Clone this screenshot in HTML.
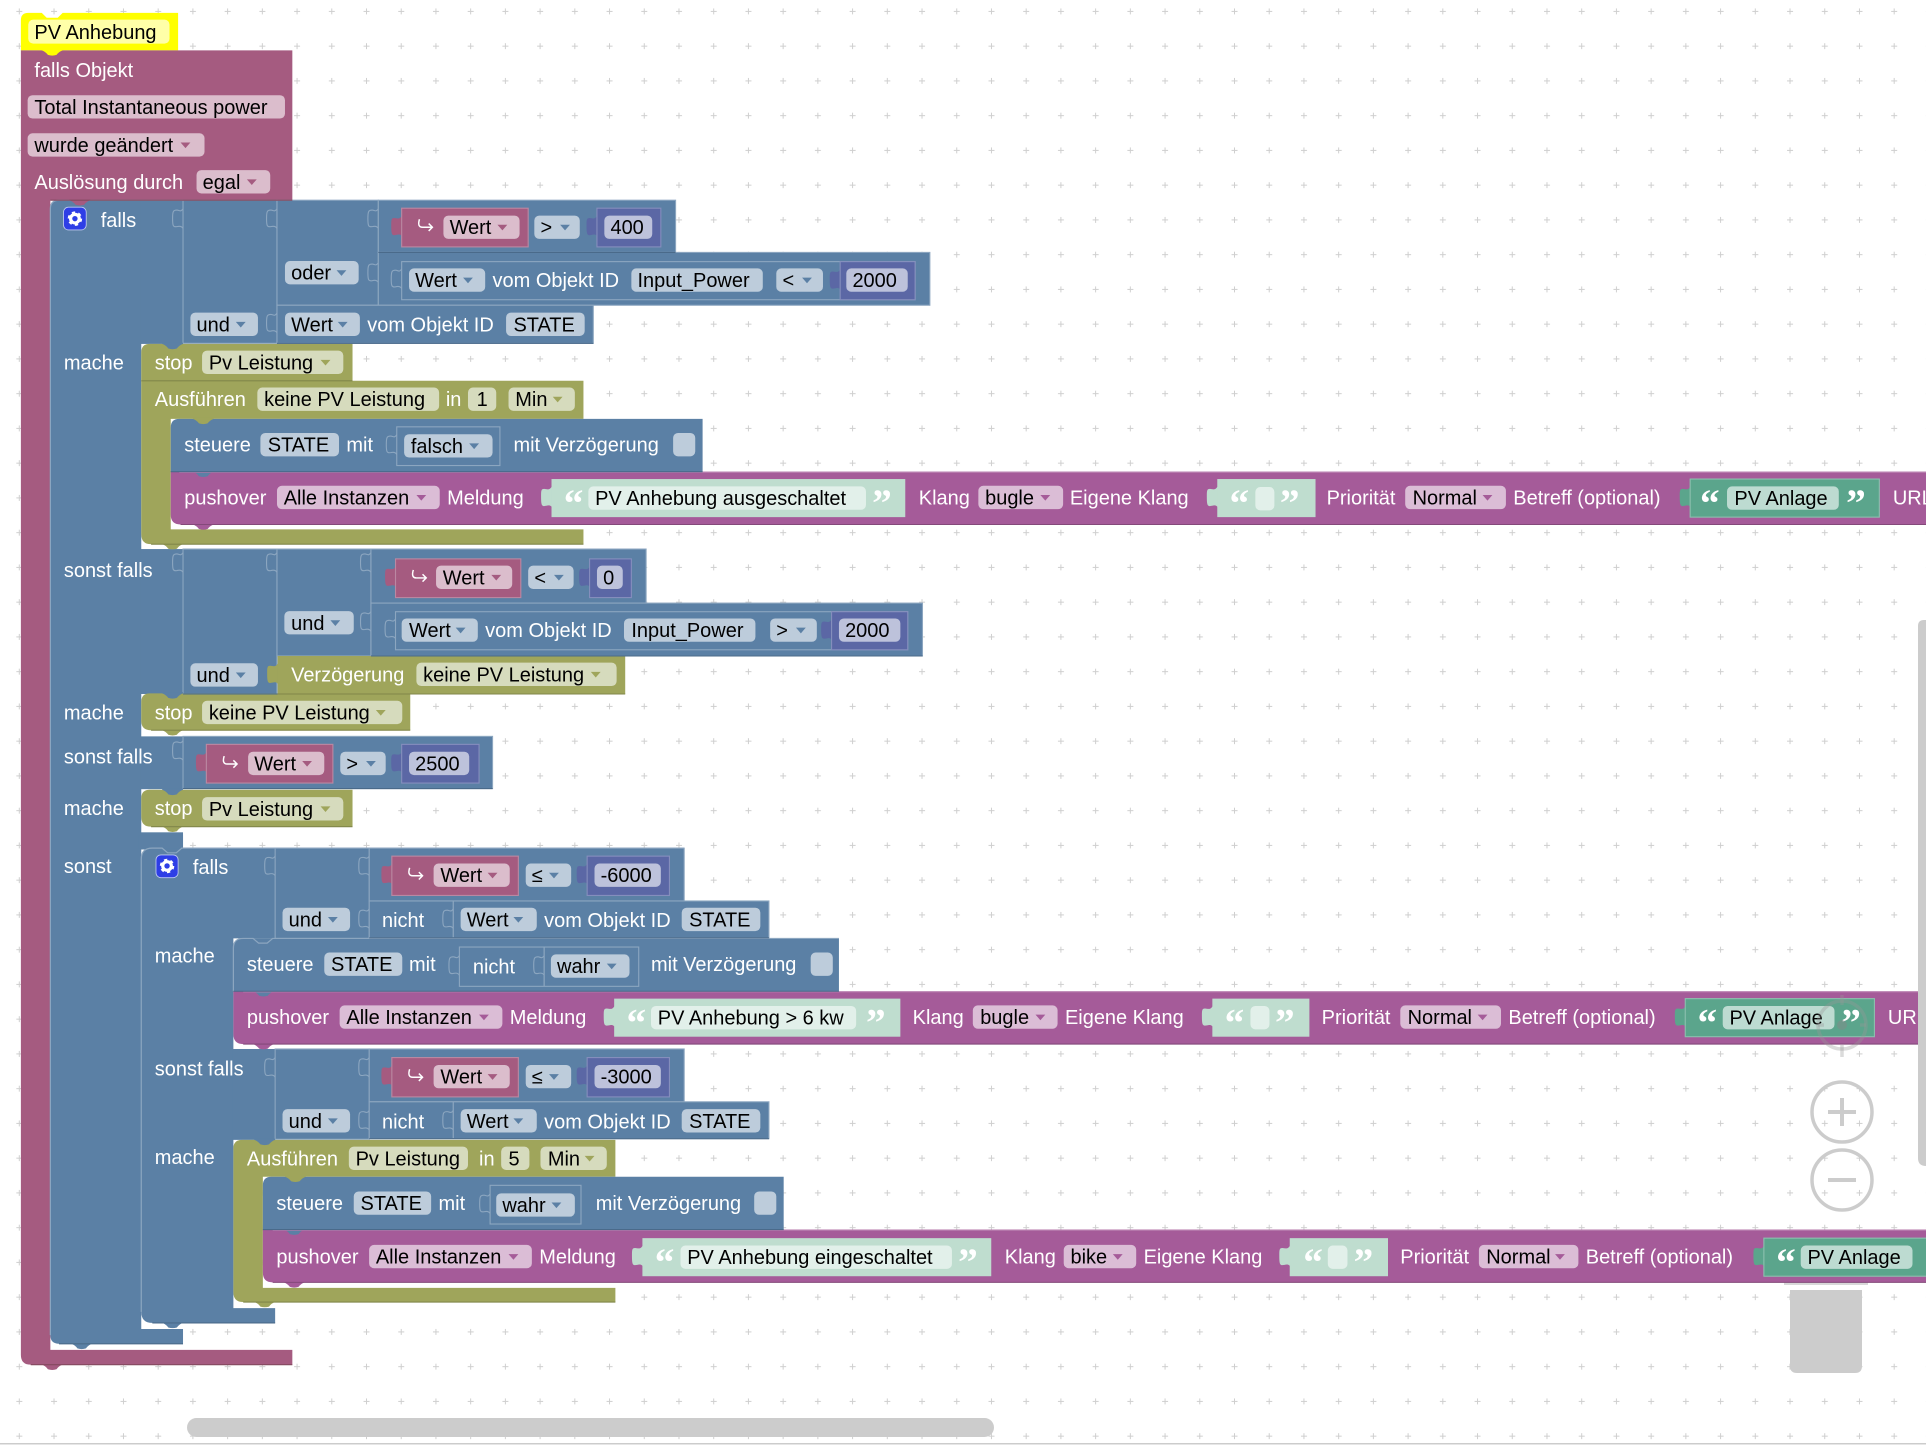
<!DOCTYPE html>
<html><head><meta charset="utf-8"><title>PV Anhebung</title>
<style>
html,body{margin:0;padding:0;background:#fff;width:1926px;height:1448px;overflow:hidden}
svg{display:block;position:absolute;left:0;top:0}
text{font-family:"Liberation Sans",Arial,sans-serif;font-size:16.26px;fill:#fff;white-space:pre}
text.k{fill:#000}
text.q{font-family:"Liberation Serif",serif;font-size:32px;font-weight:bold}
rect.f{height:19px;rx:4px;ry:4px}
.fb{fill:#BDCCDB}.fm{fill:#DBBDCC}.fo{fill:#D6DBBD}.fp{fill:#DBBDD6}.fn{fill:#BDC2DB}.fg{fill:#BDDBD1}.fw{fill:#E2F0EA}
.B{fill:#5B80A5}.M{fill:#A55B80}.O{fill:#9FA55B}.P{fill:#A55B99}.N{fill:#5B67A5}.G{fill:#5BA58C}.L{fill:#BFDDCF}
.s{stroke-width:.9}
.B.s{stroke:#8CA6C0}.M.s{stroke:#BB88A2}.N.s{stroke:#858EBD}.G.s{stroke:#8CC0AE}.L.s{stroke:#CFE6DB}
.O.s{stroke:#B5BA80}.P.s{stroke:#8C4D82}
.ab{fill:#5B80A5}.am{fill:#A55B80}.ao{fill:#9FA55B}.ap{fill:#A55B99}
.n{fill:none;stroke:#8CA6C0;stroke-width:.9}
.l{stroke:#8CA6C0;stroke-width:1;fill:none}
.e{fill:none;stroke-width:.9}
</style></head><body>
<svg width="1926" height="1448" viewBox="0 0 1926 1448" xmlns="http://www.w3.org/2000/svg">
<defs>
<pattern id="g" x="1.94" y="-5.96" width="34.72" height="34.75" patternUnits="userSpaceOnUse"><path d="M14.4 17.36h6M17.36 14.4v6" stroke="#cfcfcf" stroke-width="1"/></pattern>
<path id="a" d="M0 0h8l-4 4.600z"/>
<path id="t" d="M1 1.500h-1C-2 4.500-4 3-6 3C-8.500 3-8.500 4.500-8.500 9.500C-8.500 15.500-8 17-6 17C-4 17-2 15.500 0 17.500h1z"/>
<path id="nt" d="M0 0C-2 3-3 1-5 1C-8 1-8.500 2-8.500 8C-8.500 14-8 15-5 14.500C-3 14-1 14 0 16"/>
<path id="b" d="M0-1v1q3 1 5 3.700q3.500 1.200 7 0q2-2.700 5-3.700v-1z"/>
<path id="h" d="M14.500 -6q-2 6.500 2.500 6.500h8m-3-3l3 3-3 3" fill="none" stroke="#fff" stroke-width="1.200"/>
<g id="gear"><circle r="3.500" fill="none" stroke="#fff" stroke-width="2.600"/><circle r="5" fill="none" stroke="#fff" stroke-width="1.800" stroke-dasharray="2.620 2.620"/></g>
</defs>
<rect width="1926" height="1448" fill="#fff"/>
<rect width="1926" height="1443" fill="url(#g)"/>
<path d="M1790 1290H1862V1366Q1862 1373 1855 1373H1797Q1790 1373 1790 1366Z" fill="#ccc"/>
<rect x="1784" y="1282" width="84" height="3" fill="#d8d8d8"/>
<g transform="scale(1.22832)">

<!-- hat -->
<path d="M23 10.500H34l4 4h9l4-4H145V41H17V16.500Q17 10.500 23 10.500Z" fill="#FFFF00"/>
<rect x="23" y="16" width="115" height="19.500" rx="4" fill="#FFFFA8"/>
<text class="k" x="28" y="31.700">PV Anhebung</text>

<!-- main maroon -->
<path d="M17 41H238V163H41V1099H238V1111H25Q17 1111 17 1103Z" class="M"/>
<use href="#b" x="34" y="41" fill="#FFFF00"/>
<use href="#b" x="34" y="1111" class="M"/>
<text x="28" y="62.700">falls Objekt</text>
<rect class="f fm" x="22.500" y="77.500" width="209.500"/><text class="k" x="28" y="92.700">Total Instantaneous power</text>
<rect class="f fm" x="22.500" y="108.500" width="144"/><text class="k" x="28" y="123.700">wurde geändert</text><use href="#a" x="147" y="116" class="am"/>
<text x="28" y="153.700">Auslösung durch</text>
<rect class="f fm" x="160" y="138.500" width="60"/><text class="k" x="165" y="153.700">egal</text><use href="#a" x="201" y="146" class="am"/>

<!-- blue outer falls -->
<path d="M48 163H115V1082H149V1094H48Q41 1094 41 1087V170Q41 163 48 163Z" class="B"/>
<rect x="114" y="163" width="35" height="117" class="B"/>
<rect x="114" y="447" width="35" height="118" class="B"/>
<rect x="114" y="599.500" width="35" height="43" class="B"/>
<rect x="114" y="677.600" width="35" height="14" class="B"/>
<path d="M41 1087V170Q41 163 48 163H149" class="l"/>
<use href="#b" x="56.500" y="163" class="M"/>
<use href="#b" x="58" y="1094" class="B"/>

<rect x="51.700" y="168.700" width="18.500" height="18.500" rx="4" fill="#2E3EE6" stroke="#BDC8F0" stroke-width=".7"/>
<use href="#gear" x="61" y="178"/>
<text x="82" y="184.700">falls</text>
<text x="52" y="300.700">mache</text>
<text x="52" y="469.700">sonst falls</text>
<text x="52" y="585.700">mache</text>
<text x="52" y="621.700">sonst falls</text>
<text x="52" y="663.500">mache</text>
<text x="52" y="710.700">sonst</text>

<!-- cond 1 -->
<rect x="149" y="163" width="76.500" height="116.500" class="B s"/>
<rect x="225.500" y="163" width="82.500" height="85.500" class="B s"/>
<rect x="308" y="163" width="242" height="42.500" class="B s"/>
<rect x="308" y="205.500" width="449" height="43" class="B s"/>
<rect x="225.500" y="248.500" width="257.500" height="31" class="B s"/>
<use href="#nt" x="149" y="170" class="n"/><use href="#nt" x="225.500" y="170" class="n"/><use href="#nt" x="308" y="170" class="n"/><use href="#nt" x="308" y="214" class="n"/><use href="#nt" x="225.500" y="255" class="n"/>
<rect class="f fb" x="232" y="212.500" width="60"/><text class="k" x="237" y="227.700">oder</text><use href="#a" x="274" y="220" class="ab"/>
<rect class="f fb" x="155" y="254.500" width="55"/><text class="k" x="160" y="269.700">und</text><use href="#a" x="192" y="262" class="ab"/>
<rect class="f fb" x="232" y="254.500" width="61"/><text class="k" x="237" y="269.700">Wert</text><use href="#a" x="275" y="262" class="ab"/>
<text x="299" y="269.700">vom Objekt ID</text>
<rect class="f fb" x="412" y="254.500" width="64"/><text class="k" x="418" y="269.700">STATE</text>
<use href="#t" x="327" y="174.500" class="M"/><rect x="327" y="169.500" width="103" height="31.500" class="M s"/><use href="#h" x="327" y="184.500"/>
<rect class="f fm" x="361" y="175.500" width="62"/><text class="k" x="366" y="190.700">Wert</text><use href="#a" x="405" y="183" class="am"/>
<rect class="f fb" x="435" y="175.500" width="37"/><text class="k" x="440" y="190.700">&gt;</text><use href="#a" x="456" y="183" class="ab"/>
<use href="#t" x="486" y="174.500" class="N"/><rect x="486" y="169.500" width="52" height="31.500" class="N s"/>
<rect class="f fn" x="492" y="175.500" width="39"/><text class="k" x="497" y="190.700">400</text>
<use href="#nt" x="327" y="219" class="n"/><rect x="327" y="213" width="418" height="31" class="B s"/>
<rect class="f fb" x="333" y="218.500" width="62"/><text class="k" x="338" y="233.700">Wert</text><use href="#a" x="377" y="226" class="ab"/>
<text x="401" y="233.700">vom Objekt ID</text>
<rect class="f fb" x="514" y="218.500" width="107"/><text class="k" x="519" y="233.700">Input_Power</text>
<rect class="f fb" x="632" y="218.500" width="38"/><text class="k" x="637" y="233.700">&lt;</text><use href="#a" x="653" y="226" class="ab"/>
<use href="#t" x="684" y="218" class="N"/><rect x="684" y="213" width="61" height="31" class="N s"/>
<rect class="f fn" x="689" y="218.500" width="50"/><text class="k" x="694" y="233.700">2000</text>

<!-- stop 1 -->
<path d="M122 280H287V310H115V287Q115 280 122 280Z" class="O"/>
<use href="#b" x="132" y="280" class="B"/>
<text x="126" y="300.700">stop</text>
<rect class="f fo" x="164.500" y="285.500" width="115"/><text class="k" x="170" y="300.700">Pv Leistung</text><use href="#a" x="261" y="293" class="ao"/>

<!-- ausfuhren 1 -->
<path d="M115 310H475V341H139V431H475V443H123Q115 443 115 435Z" class="O"/>
<use href="#b" x="132" y="310" class="O"/><use href="#b" x="132" y="443" class="O"/>
<text x="126" y="330.700">Ausführen</text>
<rect class="f fo" x="209.500" y="315.500" width="148"/><text class="k" x="215" y="330.700">keine PV Leistung</text>
<text x="363" y="330.700">in</text>
<rect class="f fo" x="381" y="315.500" width="23"/><text class="k" x="388" y="330.700">1</text>
<rect class="f fo" x="414" y="315.500" width="54"/><text class="k" x="419.500" y="330.700">Min</text><use href="#a" x="450" y="323" class="ao"/>

<!-- steuere 1 -->
<path d="M146 341H572V384H139V348Q139 341 146 341Z" class="B"/>
<use href="#b" x="157" y="341" class="O"/>
<text x="150" y="367.700">steuere</text>
<rect class="f fb" x="212" y="352.500" width="64"/><text class="k" x="218" y="367.700">STATE</text>
<text x="282" y="367.700">mit</text>
<use href="#nt" x="323" y="354" class="n"/>
<rect x="323" y="347.500" width="84" height="31.500" class="B s"/>
<rect class="f fb" x="329" y="353.500" width="72"/><text class="k" x="334.500" y="368.700">falsch</text><use href="#a" x="382" y="361" class="ab"/>
<text x="418" y="367.700">mit Verzögerung</text>
<rect class="f fb" x="548" y="352.500" width="18"/>

<!-- pushover 1 -->
<path d="M139 384H1568V427H147Q139 427 139 419Z" class="P"/>
<use href="#b" x="157" y="384" class="B"/><use href="#b" x="157" y="427" class="P"/>
<text x="150" y="410.700">pushover</text>
<rect class="f fp" x="225.500" y="395.500" width="132.500"/><text class="k" x="231" y="410.700">Alle Instanzen</text><use href="#a" x="339" y="403" class="ap"/>
<text x="364" y="410.700">Meldung</text>
<use href="#t" x="449" y="395" class="L"/><rect x="449" y="390" width="288" height="31" class="L"/>
<text class="q" x="459" y="420">“</text><rect class="f fw" x="479" y="396" width="226"/><text class="k" x="484.500" y="411.200">PV Anhebung ausgeschaltet</text><text class="q" x="710" y="420">”</text>
<text x="748" y="410.700">Klang</text>
<rect class="f fp" x="796.500" y="395.500" width="69"/><text class="k" x="802" y="410.700">bugle</text><use href="#a" x="847" y="403" class="ap"/>
<text x="871" y="410.700">Eigene Klang</text>
<use href="#t" x="991" y="395" class="L"/><rect x="991" y="390" width="80" height="31" class="L"/>
<text class="q" x="1001" y="420">“</text><rect class="f fw" x="1022" y="396.500" width="15.500"/><text class="q" x="1042" y="420">”</text>
<text x="1080" y="410.700">Priorität</text>
<rect class="f fp" x="1144" y="395.500" width="82"/><text class="k" x="1150" y="410.700">Normal</text><use href="#a" x="1207" y="403" class="ap"/>
<text x="1232" y="410.700">Betreff (optional)</text>
<use href="#t" x="1376" y="395" class="G"/><rect x="1376" y="390" width="154" height="31" class="G s"/>
<text class="q" x="1384" y="420">“</text><rect class="f fg" x="1406" y="396" width="91"/><text class="k" x="1412" y="411.200">PV Anlage</text><text class="q" x="1503" y="420">”</text>
<text x="1541" y="410.700">URL</text>

<!-- cond 2 -->
<rect x="149" y="447" width="76.500" height="118" class="B s"/>
<rect x="225.500" y="447" width="76.500" height="87" class="B s"/>
<rect x="302" y="447" width="224" height="44" class="B s"/>
<rect x="302" y="491" width="449" height="43" class="B s"/>
<use href="#nt" x="149" y="450" class="n"/><use href="#nt" x="225.500" y="450" class="n"/><use href="#nt" x="302" y="450" class="n"/><use href="#nt" x="302" y="498" class="n"/>
<rect class="f fb" x="231.500" y="497.500" width="56.500"/><text class="k" x="237" y="512.700">und</text><use href="#a" x="269" y="505" class="ab"/>
<rect class="f fb" x="155" y="540" width="55"/><text class="k" x="160" y="555.200">und</text><use href="#a" x="192" y="547.500" class="ab"/>
<use href="#t" x="322" y="460" class="M"/><rect x="322" y="455" width="102" height="31.500" class="M s"/><use href="#h" x="322" y="470"/>
<rect class="f fm" x="355" y="460.500" width="62"/><text class="k" x="360.500" y="475.700">Wert</text><use href="#a" x="400" y="468" class="am"/>
<rect class="f fb" x="430" y="460.500" width="37"/><text class="k" x="435" y="475.700">&lt;</text><use href="#a" x="451" y="468" class="ab"/>
<use href="#t" x="480" y="460" class="N"/><rect x="480" y="455" width="34" height="31.500" class="N s"/>
<rect class="f fn" x="486" y="460.500" width="21"/><text class="k" x="491" y="475.700">0</text>
<use href="#nt" x="322" y="504" class="n"/><rect x="322" y="498" width="417" height="31" class="B s"/>
<rect class="f fb" x="327" y="503.500" width="62"/><text class="k" x="333" y="518.700">Wert</text><use href="#a" x="371" y="511" class="ab"/>
<text x="395" y="518.700">vom Objekt ID</text>
<rect class="f fb" x="508" y="503.500" width="107"/><text class="k" x="514" y="518.700">Input_Power</text>
<rect class="f fb" x="627" y="503.500" width="38"/><text class="k" x="632" y="518.700">&gt;</text><use href="#a" x="648" y="511" class="ab"/>
<use href="#t" x="677" y="503" class="N"/><rect x="677" y="498" width="62" height="31" class="N s"/>
<rect class="f fn" x="683" y="503.500" width="50"/><text class="k" x="688" y="518.700">2000</text>
<use href="#t" x="226" y="539" class="O"/><rect x="226" y="534" width="283" height="31" class="O"/>
<text x="237" y="554.700">Verzögerung</text>
<rect class="f fo" x="339" y="539.500" width="163"/><text class="k" x="344.500" y="554.700">keine PV Leistung</text><use href="#a" x="481" y="547" class="ao"/>

<!-- stop 2 -->
<path d="M122 564.500H334V594.500H123Q115 594.500 115 587V571.500Q115 564.500 122 564.500Z" class="O"/>
<use href="#b" x="132" y="564.500" class="B"/><use href="#b" x="132" y="594.500" class="O"/>
<text x="126" y="585.700">stop</text>
<rect class="f fo" x="164.500" y="570.500" width="163"/><text class="k" x="170" y="585.700">keine PV Leistung</text><use href="#a" x="306" y="578" class="ao"/>

<!-- sonst falls 2 -->
<rect x="149" y="599.500" width="252" height="42.500" class="B s"/>
<use href="#nt" x="149" y="603" class="n"/>
<use href="#t" x="168" y="611" class="M"/><rect x="168" y="606" width="103" height="31.500" class="M s"/><use href="#h" x="168" y="621.500"/>
<rect class="f fm" x="202" y="612" width="62"/><text class="k" x="207" y="627.200">Wert</text><use href="#a" x="246" y="619.500" class="am"/>
<rect class="f fb" x="277" y="612" width="37"/><text class="k" x="282" y="627.200">&gt;</text><use href="#a" x="298" y="619.500" class="ab"/>
<use href="#t" x="327" y="611" class="N"/><rect x="327" y="606" width="63" height="31.500" class="N s"/>
<rect class="f fn" x="333" y="612" width="49"/><text class="k" x="338" y="627.200">2500</text>

<!-- stop 3 -->
<path d="M122 643H287V673H123Q115 673 115 665V650Q115 643 122 643Z" class="O"/>
<use href="#b" x="132" y="643" class="B"/><use href="#b" x="132" y="673" class="O"/>
<text x="126" y="663.700">stop</text>
<rect class="f fo" x="164.500" y="649" width="115"/><text class="k" x="170" y="664.200">Pv Leistung</text><use href="#a" x="261" y="656.500" class="ao"/>

<!-- inner falls -->
<path d="M124 690.500H224V764H190V1065H224V1077H124Q115 1077 115 1068V699.500Q115 690.500 124 690.500Z" class="B"/>
<rect x="189" y="854" width="35" height="74" class="B"/>
<rect x="113" y="680" width="36" height="11" class="B"/>
<path d="M115 1068V699.500Q115 690.500 124 690.500H132l4.500 3.800h7l4.500-3.800H557" class="l"/>
<use href="#b" x="132" y="1077" class="B"/>
<rect x="127" y="696" width="18" height="18.500" rx="4" fill="#2E3EE6" stroke="#BDC8F0" stroke-width=".7"/>
<use href="#gear" x="136" y="705"/>
<text x="157" y="711.700">falls</text>
<text x="126" y="783.700">mache</text>
<text x="126" y="875.700">sonst falls</text>
<text x="126" y="947.700">mache</text>

<!-- cond inner 1 -->
<rect x="224" y="690.500" width="76.600" height="73.500" class="B s"/>
<rect x="300.600" y="690.500" width="256.400" height="43" class="B s"/>
<rect x="300.600" y="733.500" width="325.400" height="30" class="B s"/>
<line x1="369" y1="733.500" x2="369" y2="763.500" class="l"/>
<use href="#nt" x="224" y="697" class="n"/><use href="#nt" x="300.600" y="697" class="n"/><use href="#nt" x="300.600" y="740" class="n"/><use href="#nt" x="369" y="740" class="n"/>
<rect class="f fb" x="230" y="739" width="55"/><text class="k" x="235" y="754.200">und</text><use href="#a" x="267" y="746.500" class="ab"/>
<text x="311" y="754.700">nicht</text>
<use href="#t" x="319" y="702" class="M"/><rect x="319" y="697" width="103" height="32" class="M s"/><use href="#h" x="319" y="712.500"/>
<rect class="f fm" x="353" y="703" width="62"/><text class="k" x="358.500" y="718.200">Wert</text><use href="#a" x="397" y="710.500" class="am"/>
<rect class="f fb" x="428" y="703" width="37"/><text class="k" x="433" y="718.200">≤</text><use href="#a" x="447" y="710.500" class="ab"/>
<use href="#t" x="478" y="702" class="N"/><rect x="478" y="697" width="67" height="32" class="N s"/>
<rect class="f fn" x="484" y="703" width="54"/><text class="k" x="489" y="718.200">-6000</text>
<rect class="f fb" x="375" y="739" width="62"/><text class="k" x="380" y="754.200">Wert</text><use href="#a" x="418" y="746.500" class="ab"/>
<text x="443" y="754.700">vom Objekt ID</text>
<rect class="f fb" x="555" y="739" width="64"/><text class="k" x="561" y="754.200">STATE</text>

<!-- steuere 2 -->
<path d="M198 764H683V807H190V772Q190 764 198 764Z" class="B"/>
<path d="M190 807V772Q190 764 198 764H206l4.500 3.800h7l4.500-3.800H683" class="l"/>
<text x="201" y="790.700">steuere</text>
<rect class="f fb" x="264" y="775.500" width="63.500"/><text class="k" x="269.500" y="790.700">STATE</text>
<text x="333" y="790.700">mit</text>
<use href="#nt" x="374" y="778" class="n"/>
<rect x="374" y="771" width="146" height="32" class="B s"/>
<line x1="443" y1="771" x2="443" y2="803" class="l"/>
<use href="#nt" x="443" y="778" class="n"/>
<text x="385" y="792.700">nicht</text>
<rect class="f fb" x="448.500" y="777" width="64"/><text class="k" x="453.500" y="792.200">wahr</text><use href="#a" x="494" y="784.500" class="ab"/>
<text x="530" y="790.700">mit Verzögerung</text>
<rect class="f fb" x="660" y="775.500" width="18"/>

<!-- pushover 2 -->
<path d="M190 807H1568V850H198Q190 850 190 842Z" class="P"/>
<use href="#b" x="206" y="807" class="B"/><use href="#b" x="206" y="850" class="P"/>
<text x="201" y="833.700">pushover</text>
<rect class="f fp" x="276.500" y="818.500" width="132.500"/><text class="k" x="282" y="833.700">Alle Instanzen</text><use href="#a" x="390" y="826" class="ap"/>
<text x="415" y="833.700">Meldung</text>
<use href="#t" x="500" y="818" class="L"/><rect x="500" y="813" width="233" height="31" class="L"/>
<text class="q" x="510" y="843">“</text><rect class="f fw" x="530" y="819" width="167"/><text class="k" x="535.500" y="834.200">PV Anhebung &gt; 6 kw</text><text class="q" x="705" y="843">”</text>
<text x="743" y="833.700">Klang</text>
<rect class="f fp" x="792" y="818.500" width="69"/><text class="k" x="798" y="833.700">bugle</text><use href="#a" x="843" y="826" class="ap"/>
<text x="867" y="833.700">Eigene Klang</text>
<use href="#t" x="987" y="818" class="L"/><rect x="987" y="813" width="79" height="31" class="L"/>
<text class="q" x="997" y="843">“</text><rect class="f fw" x="1018" y="819" width="15.500"/><text class="q" x="1038" y="843">”</text>
<text x="1076" y="833.700">Priorität</text>
<rect class="f fp" x="1140" y="818.500" width="82"/><text class="k" x="1146" y="833.700">Normal</text><use href="#a" x="1203" y="826" class="ap"/>
<text x="1228" y="833.700">Betreff (optional)</text>
<use href="#t" x="1372" y="818" class="G"/><rect x="1372" y="813" width="154" height="31" class="G s"/>
<text class="q" x="1382" y="843">“</text><rect class="f fg" x="1402.500" y="819" width="91"/><text class="k" x="1408" y="834.200">PV Anlage</text><text class="q" x="1499" y="843">”</text>
<text x="1537" y="833.700">URL</text>

<!-- cond inner 2 -->
<rect x="224" y="854" width="76.600" height="73.500" class="B s"/>
<rect x="300.600" y="854" width="256.400" height="43" class="B s"/>
<rect x="300.600" y="897" width="325.400" height="30" class="B s"/>
<line x1="369" y1="897" x2="369" y2="927" class="l"/>
<use href="#nt" x="224" y="861" class="n"/><use href="#nt" x="300.600" y="861" class="n"/><use href="#nt" x="300.600" y="904" class="n"/><use href="#nt" x="369" y="904" class="n"/>
<rect class="f fb" x="230" y="903" width="55"/><text class="k" x="235" y="918.200">und</text><use href="#a" x="267" y="910.500" class="ab"/>
<text x="311" y="918.700">nicht</text>
<use href="#t" x="319" y="866" class="M"/><rect x="319" y="861" width="103" height="32" class="M s"/><use href="#h" x="319" y="876.500"/>
<rect class="f fm" x="353" y="867" width="62"/><text class="k" x="358.500" y="882.200">Wert</text><use href="#a" x="397" y="874.500" class="am"/>
<rect class="f fb" x="428" y="867" width="37"/><text class="k" x="433" y="882.200">≤</text><use href="#a" x="447" y="874.500" class="ab"/>
<use href="#t" x="478" y="866" class="N"/><rect x="478" y="861" width="67" height="32" class="N s"/>
<rect class="f fn" x="484" y="867" width="54"/><text class="k" x="489" y="882.200">-3000</text>
<rect class="f fb" x="375" y="903" width="62"/><text class="k" x="380" y="918.200">Wert</text><use href="#a" x="418" y="910.500" class="ab"/>
<text x="443" y="918.700">vom Objekt ID</text>
<rect class="f fb" x="555" y="903" width="64"/><text class="k" x="561" y="918.200">STATE</text>

<!-- ausfuhren 2 -->
<path d="M197 928H501V958H214V1048.500H501V1060H198Q190 1060 190 1052V935Q190 928 197 928Z" class="O"/>
<use href="#b" x="207" y="928" class="B"/><use href="#b" x="207" y="1060" class="O"/>
<text x="201" y="948.700">Ausführen</text>
<rect class="f fo" x="284" y="933.500" width="97"/><text class="k" x="289.500" y="948.700">Pv Leistung</text>
<text x="390" y="948.700">in</text>
<rect class="f fo" x="408" y="933.500" width="23"/><text class="k" x="414" y="948.700">5</text>
<rect class="f fo" x="440" y="933.500" width="54"/><text class="k" x="446" y="948.700">Min</text><use href="#a" x="476" y="941" class="ao"/>

<!-- steuere 3 -->
<path d="M221 958H638V1001H214V965Q214 958 221 958Z" class="B"/>
<use href="#b" x="232" y="958" class="O"/>
<text x="225" y="985.200">steuere</text>
<rect class="f fb" x="288" y="970" width="63"/><text class="k" x="293.500" y="985.200">STATE</text>
<text x="357" y="985.200">mit</text>
<use href="#nt" x="399" y="972" class="n"/>
<rect x="399" y="965" width="74" height="31.500" class="B s"/>
<rect class="f fb" x="404" y="971.500" width="64"/><text class="k" x="409" y="986.700">wahr</text><use href="#a" x="449" y="979" class="ab"/>
<text x="485" y="985.200">mit Verzögerung</text>
<rect class="f fb" x="614" y="970" width="18"/>

<!-- pushover 3 -->
<path d="M214 1001H1568V1044H222Q214 1044 214 1036Z" class="P"/>
<use href="#b" x="231" y="1001" class="B"/><use href="#b" x="231" y="1044" class="P"/>
<text x="225" y="1028.700">pushover</text>
<rect class="f fp" x="300.500" y="1013.500" width="132.500"/><text class="k" x="306" y="1028.700">Alle Instanzen</text><use href="#a" x="414" y="1021" class="ap"/>
<text x="439" y="1028.700">Meldung</text>
<use href="#t" x="523" y="1013" class="L"/><rect x="523" y="1008" width="284" height="31" class="L"/>
<text class="q" x="533" y="1038">“</text><rect class="f fw" x="554" y="1014" width="221"/><text class="k" x="559.500" y="1029.200">PV Anhebung eingeschaltet</text><text class="q" x="780" y="1038">”</text>
<text x="818" y="1028.700">Klang</text>
<rect class="f fp" x="866" y="1013.500" width="59"/><text class="k" x="871.500" y="1028.700">bike</text><use href="#a" x="906" y="1021" class="ap"/>
<text x="931" y="1028.700">Eigene Klang</text>
<use href="#t" x="1050" y="1013" class="L"/><rect x="1050" y="1008" width="80" height="31" class="L"/>
<text class="q" x="1061" y="1038">“</text><rect class="f fw" x="1081" y="1014" width="16"/><text class="q" x="1102" y="1038">”</text>
<text x="1140" y="1028.700">Priorität</text>
<rect class="f fp" x="1204" y="1013.500" width="81"/><text class="k" x="1210" y="1028.700">Normal</text><use href="#a" x="1266" y="1021" class="ap"/>
<text x="1291" y="1028.700">Betreff (optional)</text>
<use href="#t" x="1436" y="1013" class="G"/><rect x="1436" y="1008" width="140" height="31" class="G s"/>
<text class="q" x="1446" y="1038">“</text><rect class="f fg" x="1466" y="1014" width="91"/><text class="k" x="1471.500" y="1029.200">PV Anlage</text>

<!-- edge shading -->
<path class="e" stroke="#84497A" d="M147 427H1568M198 850H1568M222 1044H1568"/>
<path class="e" stroke="#B97FAF" d="M146 384.500H1568M198 807.500H1568M222 1001.500H1568"/>
<path class="e" stroke="#4A6A8A" d="M139 384H572M190 807H683M214 1001H638M48 1094H149M124 1077H224M225.500 279.500H483M149 565H226M302 534H751M149 642H401M300.600 763.500H626M300.600 927H626M308 205.500H550"/>
<path class="e" stroke="#84495F" d="M25 1111H238M41 163H238"/>
<path class="e" stroke="#81864A" d="M115 310H287M123 443H475M123 594.500H334M123 673H287M198 1060H501M226 565H509"/>
</g>

<!-- overlays in real px -->
<g fill="none" stroke="#999" stroke-opacity=".35" stroke-width="3.500">
<circle cx="1842" cy="1025" r="24"/><path d="M1842 995v10M1842 1045v12M1818 1025h6M1860 1025h6"/>
</g>
<circle cx="1842" cy="1025" r="5" fill="#888" fill-opacity=".45"/>
<g fill="none" stroke="#ccc" stroke-width="3.500">
<circle cx="1842" cy="1112" r="30"/><path d="M1842 1098v28M1828 1112h28" stroke-width="4"/>
<circle cx="1842" cy="1180" r="30"/><path d="M1828 1180h28" stroke-width="4"/>
</g>
<path d="M1926 620h-2q-6 0-6 6V1158q0 8 8 8z" fill="#ccc"/>
<rect x="187" y="1418" width="807" height="19" rx="9.500" fill="#ccc"/>
<rect x="0" y="1443" width="1926" height="1.500" fill="#ccc"/>
</svg>
</body></html>
